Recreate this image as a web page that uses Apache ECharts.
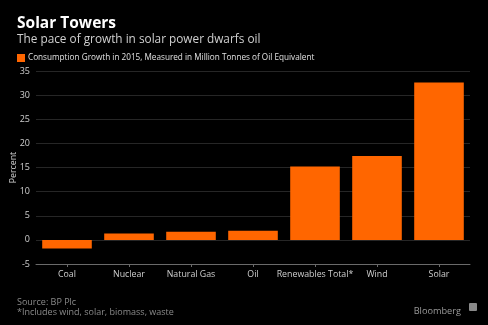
<!DOCTYPE html>
<html>
<head>
<meta charset="utf-8">
<script src="https://cdn.jsdelivr.net/npm/echarts@6/dist/echarts.min.js"></script>
<style>
  html, body { margin: 0; padding: 0; background: #000; }
  #chart { width: 488px; height: 325px; }
</style>
</head>
<body>
<div id="chart"></div>
<script>
// Energy consumption growth by source, 2015
const categories = ['Coal', 'Nuclear', 'Natural Gas', 'Oil', 'Renewables Total*', 'Wind', 'Solar'];
const growth = [-1.8, 1.3, 1.7, 1.9, 15.2, 17.4, 32.6];
const yTicks = [-5, 0, 5, 10, 15, 20, 25, 30, 35];

const FONT = '"Open Sans", "DejaVu Sans", sans-serif';
const chart = echarts.init(document.getElementById('chart'), null, { renderer: 'canvas' });

chart.setOption({
  backgroundColor: '#000000',
  animation: false,
  title: [
    {
      text: 'Solar Towers',
      left: 12, top: 11,
      textStyle: { color: '#ffffff', fontSize: 15.5, fontWeight: 'bold', fontFamily: FONT }
    },
    {
      text: 'The pace of growth in solar power dwarfs oil',
      left: 12, top: 29,
      textStyle: { color: '#d0d0d0', fontSize: 11.8, fontWeight: 'normal', fontFamily: FONT }
    },
    {
      text: 'Source: BP Plc\n*Includes wind, solar, biomass, waste',
      left: 12, top: 292,
      textStyle: { color: '#8a8a8a', fontSize: 9, lineHeight: 10, fontWeight: 'normal', fontFamily: FONT }
    },
    {
      text: 'Bloomberg',
      right: 22, top: 302,
      textStyle: { color: '#9a9a9a', fontSize: 9.2, fontWeight: 'normal', fontFamily: FONT }
    }
  ],
  graphic: [
    {
      type: 'rect',
      right: 11, top: 303,
      shape: { width: 8, height: 8, r: 1 },
      style: { fill: '#8a8a8a' }
    }
  ],
  legend: {
    left: 12, top: 49,
    itemWidth: 8, itemHeight: 8,
    itemGap: 4,
    icon: 'rect',
    textStyle: { color: '#e0e0e0', fontSize: 8.2, fontFamily: FONT, padding: [0, 0, 0, -2] },
    data: ['Consumption Growth in 2015, Measured in Million Tonnes of Oil Equivalent']
  },
  grid: { left: 36, right: 18, top: 71, bottom: 61, containLabel: false, outerBoundsMode: 'none' },
  xAxis: {
    type: 'category',
    data: categories,
    axisLine: { onZero: false, lineStyle: { color: '#6a6a6a', width: 1 } },
    axisTick: { show: true, alignWithLabel: true, length: 3, lineStyle: { color: '#6a6a6a' } },
    axisLabel: { color: '#cfcfcf', fontSize: 8.8, fontFamily: FONT, margin: 6, interval: 0 },
    splitLine: { show: false }
  },
  yAxis: {
    type: 'value',
    min: yTicks[0], max: yTicks[yTicks.length - 1], interval: 5,
    name: 'Percent',
    nameLocation: 'middle',
    nameGap: 18,
    nameMoveOverlap: false,
    nameTextStyle: { color: '#cfcfcf', fontSize: 8.8, fontFamily: FONT },
    axisLine: { show: false },
    axisTick: { show: false },
    axisLabel: { color: '#cfcfcf', fontSize: 9, fontFamily: FONT, margin: 6 },
    splitLine: { lineStyle: { color: '#262626', width: 1 } }
  },
  series: [{
    name: 'Consumption Growth in 2015, Measured in Million Tonnes of Oil Equivalent',
    type: 'bar',
    data: growth,
    barWidth: '80%',
    itemStyle: { color: '#ff6600' }
  }]
});
</script>
</body>
</html>
